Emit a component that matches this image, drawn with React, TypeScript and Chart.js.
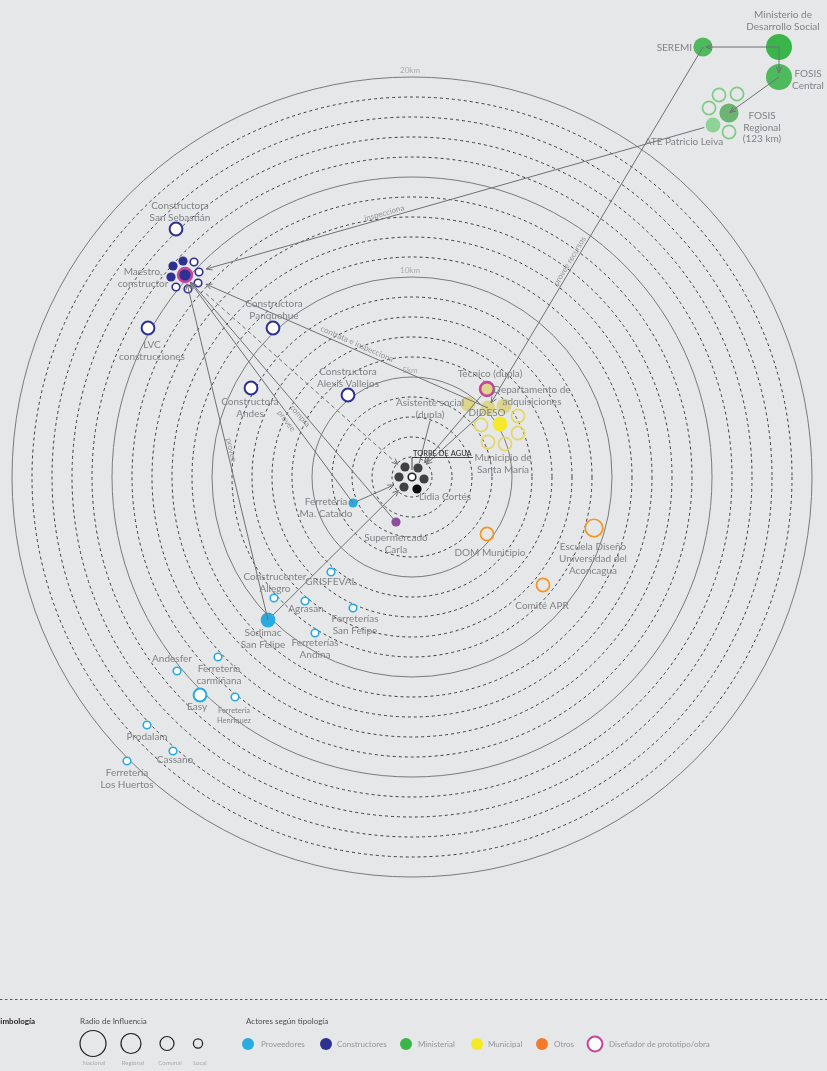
import React, { useEffect, useRef } from "react";
import { Chart, registerables } from "chart.js";

Chart.register(...registerables);

// ---------- canvas / scale (km from Torre de Agua) ----------
const W = 827;
const H = 1071;
const X_MIN = -20.6;
const X_MAX = 20.75;
const Y_MIN = -29.7;
const Y_MAX = 23.85;

// ---------- rings (km) ----------
const SOLID_RINGS_KM = [5, 10, 15, 20];
const DASHED_RINGS_KM = [1, 2, 3, 4, 6, 7, 8, 9, 11, 12, 13, 14, 16, 17, 18, 19];
const RING_LABEL_KM = [5, 10, 20];
const RING_LABELS = ["5km", "10km", "20km"];

// ---------- legend ----------
const INFLUENCE_LEVELS = ["Nacional", "Regional", "Comunal", "Local"];
const ACTOR_TYPES = ["Proveedores", "Constructores", "Ministerial", "Municipal", "Otros", "Diseñador de prototipo/obra"];

type Actor = { id: string; label: string; x: number; y: number; level: string; kind: string };

// ---------- actors (x = km east, y = km north of the Torre de Agua) ----------
const PROVEEDORES: Actor[] = [
  { id: "cataldo", label: "Ferretería\nMa. Cataldo", x: -2.95, y: -1.3, level: "Local", kind: "filled" },
  { id: "sodimac", label: "Sodimac\nSan Felipe", x: -7.2, y: -7.15, level: "Comunal", kind: "filled" },
  { id: "grisfeval", label: "GRISFEVAL", x: -4.05, y: -4.75, level: "Local", kind: "open" },
  { id: "construcenter", label: "Construcenter\nAllegro", x: -6.9, y: -6.05, level: "Local", kind: "open" },
  { id: "agrasan", label: "Agrasan", x: -5.35, y: -6.2, level: "Local", kind: "open" },
  { id: "ferrSF", label: "Ferreterías\nSan Felipe", x: -2.95, y: -6.55, level: "Local", kind: "open" },
  { id: "andina", label: "Ferreterías\nAndina", x: -4.85, y: -7.8, level: "Local", kind: "open" },
  { id: "andesfer", label: "Andesfer", x: -11.75, y: -9.7, level: "Local", kind: "open" },
  { id: "carminana", label: "Ferretería\ncarmiñana", x: -9.7, y: -9.0, level: "Local", kind: "open" },
  { id: "easy", label: "Easy", x: -10.6, y: -10.9, level: "Comunal", kind: "open" },
  { id: "henriquez", label: "Ferretería\nHenriquez", x: -8.85, y: -11.0, level: "Local", kind: "open" },
  { id: "prodalam", label: "Prodalam", x: -13.25, y: -12.4, level: "Local", kind: "open" },
  { id: "cassano", label: "Cassano", x: -11.95, y: -13.7, level: "Local", kind: "open" },
  { id: "huertos", label: "Ferretería\nLos Huertos", x: -14.25, y: -14.2, level: "Local", kind: "open" },
];

const CONSTRUCTORES: Actor[] = [
  { id: "sansebastian", label: "Constructora\nSan Sebastián", x: -11.8, y: 12.4, level: "Comunal", kind: "open" },
  { id: "maestro", label: "Maestro,\nconstructor", x: -11.35, y: 10.1, level: "Comunal", kind: "designer" },
  { id: "m1", label: "", x: -11.95, y: 10.55, level: "Local", kind: "filled" },
  { id: "m2", label: "", x: -11.45, y: 10.8, level: "Local", kind: "filled" },
  { id: "m3", label: "", x: -12.05, y: 10.0, level: "Local", kind: "filled" },
  { id: "m4", label: "", x: -10.9, y: 10.75, level: "Local", kind: "open" },
  { id: "m5", label: "", x: -10.65, y: 10.25, level: "Local", kind: "open" },
  { id: "m6", label: "", x: -10.7, y: 9.7, level: "Local", kind: "open" },
  { id: "m7", label: "", x: -11.2, y: 9.4, level: "Local", kind: "open" },
  { id: "m8", label: "", x: -11.8, y: 9.5, level: "Local", kind: "open" },
  { id: "lvc", label: "LVC\nconstrucciones", x: -13.2, y: 7.45, level: "Comunal", kind: "open" },
  { id: "panquehue", label: "Constructora\nPanquehue", x: -6.95, y: 7.45, level: "Comunal", kind: "open" },
  { id: "andes", label: "Constructora\nAndes", x: -8.05, y: 4.45, level: "Comunal", kind: "open" },
  { id: "vallejos", label: "Constructora\nAlexis Vallejos", x: -3.2, y: 4.1, level: "Comunal", kind: "open" },
];

const MINISTERIAL: Actor[] = [
  { id: "seremi", label: "SEREMI", x: 14.55, y: 21.5, level: "Regional", kind: "filled" },
  { id: "mds", label: "Ministerio de\nDesarrollo Social", x: 18.35, y: 21.5, level: "Nacional", kind: "strong" },
  { id: "fosisC", label: "FOSIS\nCentral", x: 18.35, y: 20.0, level: "Nacional", kind: "filled" },
  { id: "fosisR", label: "FOSIS\nRegional\n(123 km)", x: 15.85, y: 18.2, level: "Regional", kind: "muted" },
  { id: "ate", label: "ATE Patricio Leiva", x: 15.05, y: 17.6, level: "Comunal", kind: "light" },
  { id: "g1", label: "", x: 15.35, y: 19.1, level: "Comunal", kind: "ring" },
  { id: "g2", label: "", x: 16.25, y: 19.15, level: "Comunal", kind: "ring" },
  { id: "g3", label: "", x: 14.85, y: 18.45, level: "Comunal", kind: "ring" },
  { id: "g4", label: "", x: 15.85, y: 17.25, level: "Comunal", kind: "ring" },
];

const MUNICIPAL: Actor[] = [
  { id: "tecnico", label: "Técnico (dupla)", x: 3.75, y: 4.4, level: "Comunal", kind: "designer" },
  { id: "asistente", label: "Asistente social\n(dupla)", x: 2.8, y: 3.65, level: "Comunal", kind: "pale" },
  { id: "dideso", label: "DIDESO", x: 3.8, y: 3.45, level: "Comunal", kind: "pale" },
  { id: "adquisiciones", label: "Departamento de\nadquisiciones", x: 4.6, y: 3.55, level: "Comunal", kind: "pale" },
  { id: "municipio", label: "Municipio de\nSanta María", x: 4.4, y: 2.65, level: "Comunal", kind: "filled" },
  { id: "y1", label: "", x: 5.3, y: 3.05, level: "Comunal", kind: "ring" },
  { id: "y2", label: "", x: 3.45, y: 2.6, level: "Comunal", kind: "ring" },
  { id: "y3", label: "", x: 5.3, y: 2.2, level: "Comunal", kind: "ring" },
  { id: "y4", label: "", x: 3.8, y: 1.75, level: "Comunal", kind: "ring" },
  { id: "y5", label: "", x: 4.65, y: 1.65, level: "Comunal", kind: "ring" },
];

const OTROS: Actor[] = [
  { id: "dom", label: "DOM Municipio", x: 3.75, y: -2.85, level: "Comunal", kind: "ring" },
  { id: "escuela", label: "Escuela Diseño\nUniversidad del\nAconcagua", x: 9.1, y: -2.55, level: "Regional", kind: "ring" },
  { id: "apr", label: "Comité APR", x: 6.55, y: -5.4, level: "Comunal", kind: "ring" },
];

const TORRE: Actor[] = [
  { id: "torre", label: "TORRE DE AGUA", x: 0, y: 0, level: "Local", kind: "open" },
  { id: "c1", label: "", x: -0.35, y: 0.5, level: "Local", kind: "filled" },
  { id: "c2", label: "", x: 0.3, y: 0.45, level: "Local", kind: "filled" },
  { id: "c3", label: "", x: -0.65, y: 0.0, level: "Local", kind: "filled" },
  { id: "c4", label: "", x: 0.6, y: -0.1, level: "Local", kind: "filled" },
  { id: "c5", label: "", x: -0.4, y: -0.5, level: "Local", kind: "filled" },
  { id: "lidia", label: "Lidia Cortés", x: 0.25, y: -0.6, level: "Local", kind: "black" },
];

const COMERCIO: Actor[] = [
  { id: "carla", label: "Supermercado\nCarla", x: -0.8, y: -2.25, level: "Local", kind: "filled" },
];

// ---------- relations: from, to, label ----------
const EDGES: [string, string, string][] = [
  ["mds", "seremi", ""],
  ["mds", "fosisC", ""],
  ["fosisC", "fosisR", ""],
  ["seremi", "dideso", "provee recursos"],
  ["ate", "maestro", "inspecciona"],
  ["dideso", "maestro", "contrata e inspecciona"],
  ["sodimac", "maestro", "provee"],
  ["cataldo", "maestro", "provee"],
  ["carla", "maestro", "compra"],
  ["maestro", "torre", ""],
  ["sodimac", "torre", ""],
  ["cataldo", "torre", ""],
  ["tecnico", "torre", ""],
  ["dideso", "torre", ""],
];

// ---------- styles / layout ----------
const CAT_STYLE: Record<string, Record<string, string>> = {
  Proveedores: { main: "#29abe2" },
  Constructores: { main: "#2e3192", designerFill: "#2e3192" },
  Ministerial: { main: "#4fba5d", strong: "#39b54a", muted: "#6bb473", light: "#8ed295", ring: "#7fcc87" },
  Municipal: { main: "#f4e92a", pale: "#dcd58a", ring: "#e2d767", designerFill: "#dcd58a" },
  Otros: { main: "#f7941d", ring: "#f7941d" },
  Torre: { main: "#414042", black: "#0c0c0c", open: "#231f20" },
  Comercio: { main: "#8c4f9e" },
};
const PINK = "#c4469b";
const LEVEL_R: Record<string, number> = { Nacional: 13, Regional: 9.6, Comunal: 7.4, Local: 4.6 };

const CATEGORIES: { name: string; actors: Actor[] }[] = [
  { name: "Proveedores", actors: PROVEEDORES },
  { name: "Constructores", actors: CONSTRUCTORES },
  { name: "Ministerial", actors: MINISTERIAL },
  { name: "Municipal", actors: MUNICIPAL },
  { name: "Otros", actors: OTROS },
  { name: "Torre", actors: TORRE },
  { name: "Comercio", actors: COMERCIO },
];

// label offsets in px: [dx, dy of first line, align, lineHeight, fontSize]
const LABEL_LAYOUT: Record<string, [number, number, CanvasTextAlign?, number?, number?]> = {
  cataldo: [-27, -1],
  sodimac: [-5, 13, "center", 11.5],
  grisfeval: [0, 10],
  construcenter: [1, -21],
  agrasan: [1, 8],
  ferrSF: [2, 11],
  andina: [0, 10],
  andesfer: [-5, -12],
  carminana: [1, 12],
  easy: [-3, 12],
  henriquez: [-1, 14, "center", 10, 7.5],
  prodalam: [0, 12],
  cassano: [2, 9],
  huertos: [0, 12],
  sansebastian: [4, -23],
  maestro: [-42, -3],
  lvc: [4, 17],
  panquehue: [1, -24],
  andes: [-1, 14],
  vallejos: [0, -23],
  seremi: [-11, 1, "right"],
  mds: [4, -32],
  fosisC: [29, -3],
  fosisR: [33, 3, "center", 11.5],
  ate: [-29, 17],
  tecnico: [3, -15],
  asistente: [-38, -1],
  dideso: [-1, 5],
  adquisiciones: [28, -16],
  municipio: [3, 34],
  lidia: [28, 8],
  carla: [0, 16],
  dom: [3, 19],
  escuela: [-1, 19],
  apr: [-1, 21],
};

// edge layout: start gap, end gap, arrow, dashed, label t, label offset
const EDGE_LAYOUT: Record<string, { s: number; e: number; arrow: boolean; dash?: boolean; t?: number; off?: number }> = {
  "mds>seremi": { s: 0, e: 3, arrow: true },
  "mds>fosisC": { s: 0, e: 4, arrow: true },
  "fosisC>fosisR": { s: 0, e: 1, arrow: true },
  "seremi>dideso": { s: 0, e: 6, arrow: true, t: 0.6, off: 5 },
  "ate>maestro": { s: 9, e: 22, arrow: true, t: 0.62, off: 5 },
  "dideso>maestro": { s: 0, e: 23, arrow: true, t: 0.44, off: 6 },
  "sodimac>maestro": { s: 0, e: 9, arrow: true, t: 0.49, off: 4 },
  "cataldo>maestro": { s: 0, e: 9, arrow: true, t: 0.373, off: -5 },
  "carla>maestro": { s: 3, e: 10, arrow: true, t: 0.44, off: -4 },
  "maestro>torre": { s: 28, e: 19, arrow: true, dash: true },
  "sodimac>torre": { s: 7, e: 19, arrow: true },
  "cataldo>torre": { s: 5, e: 20, arrow: true },
  "tecnico>torre": { s: 9, e: 19, arrow: true },
  "dideso>torre": { s: 7, e: 19, arrow: true },
};

const FONT = "Lato, 'Open Sans', sans-serif";
const TEXT_GRAY = "#808285";
const LINE_GRAY = "#707174";

const ALL_ACTORS: Record<string, Actor> = {};
CATEGORIES.forEach((c) => c.actors.forEach((a) => (ALL_ACTORS[a.id] = a)));

function borderWidthOf(a: Actor): number {
  if (a.kind === "designer") return 2.6;
  if (a.kind === "open") return a.level === "Local" ? 1.6 : 2;
  if (a.kind === "ring") return 1.7;
  return 0;
}
function radiusOf(a: Actor): number {
  const base = a.kind === "designer" ? 8.2 : LEVEL_R[a.level];
  return base - borderWidthOf(a) / 2;
}
function fillOf(cat: string, a: Actor): string {
  const s = CAT_STYLE[cat];
  switch (a.kind) {
    case "open":
      return "#ffffff";
    case "ring":
      return "rgba(0,0,0,0)";
    case "designer":
      return s.designerFill || s.main;
    default:
      return s[a.kind] || s.main;
  }
}
function borderOf(cat: string, a: Actor): string {
  const s = CAT_STYLE[cat];
  if (a.kind === "designer") return PINK;
  if (a.kind === "ring") return s.ring || s.main;
  if (a.kind === "open") return s.open || s.main;
  return fillOf(cat, a);
}

function drawArrow(ctx: CanvasRenderingContext2D, x1: number, y1: number, x2: number, y2: number) {
  const a = Math.atan2(y2 - y1, x2 - x1);
  const L = 6.5;
  const sp = 0.42;
  ctx.beginPath();
  ctx.moveTo(x2 - L * Math.cos(a - sp), y2 - L * Math.sin(a - sp));
  ctx.lineTo(x2, y2);
  ctx.lineTo(x2 - L * Math.cos(a + sp), y2 - L * Math.sin(a + sp));
  ctx.stroke();
}

const bgPlugin = {
  id: "bg",
  beforeDraw(chart: any) {
    const ctx = chart.ctx;
    ctx.save();
    ctx.fillStyle = "#e6e7e8";
    ctx.fillRect(0, 0, chart.width, chart.height);
    ctx.restore();
  },
};

const ringsPlugin = {
  id: "rings",
  beforeDatasetsDraw(chart: any) {
    const { ctx } = chart;
    const xs = chart.scales.x;
    const ys = chart.scales.y;
    const cx = xs.getPixelForValue(0);
    const cy = ys.getPixelForValue(0);
    ctx.save();
    ctx.lineWidth = 1;
    ctx.strokeStyle = "#3d3d3f";
    ctx.setLineDash([3, 3]);
    DASHED_RINGS_KM.forEach((km) => {
      const rx = xs.getPixelForValue(km) - cx;
      const ry = cy - ys.getPixelForValue(km);
      ctx.beginPath();
      ctx.ellipse(cx, cy, rx, ry, 0, 0, Math.PI * 2);
      ctx.stroke();
    });
    ctx.setLineDash([]);
    ctx.strokeStyle = "#7a7b7e";
    SOLID_RINGS_KM.forEach((km) => {
      const rx = xs.getPixelForValue(km) - cx;
      const ry = cy - ys.getPixelForValue(km);
      ctx.beginPath();
      ctx.ellipse(cx, cy, rx, ry, 0, 0, Math.PI * 2);
      ctx.stroke();
    });
    ctx.fillStyle = "#a9abae";
    ctx.font = `8px ${FONT}`;
    ctx.textAlign = "center";
    ctx.textBaseline = "middle";
    RING_LABEL_KM.forEach((km, i) => {
      const y = ys.getPixelForValue(km);
      ctx.fillText(RING_LABELS[i], cx - 2, y - 7);
    });
    ctx.restore();
  },
};

const overlayPlugin = {
  id: "overlay",
  afterDatasetsDraw(chart: any) {
    const { ctx } = chart;
    const xs = chart.scales.x;
    const ys = chart.scales.y;
    const P = (id: string) => {
      const a = ALL_ACTORS[id];
      return [xs.getPixelForValue(a.x), ys.getPixelForValue(a.y)];
    };
    ctx.save();
    // edges
    ctx.strokeStyle = LINE_GRAY;
    ctx.lineWidth = 1;
    EDGES.forEach(([f, t, label]) => {
      const L = EDGE_LAYOUT[`${f}>${t}`];
      const [x1, y1] = P(f);
      const [x2, y2] = P(t);
      const d = Math.hypot(x2 - x1, y2 - y1);
      const ux = (x2 - x1) / d;
      const uy = (y2 - y1) / d;
      const sx = x1 + ux * L.s;
      const sy = y1 + uy * L.s;
      const ex = x2 - ux * L.e;
      const ey = y2 - uy * L.e;
      ctx.setLineDash(L.dash ? [4, 3] : []);
      ctx.beginPath();
      ctx.moveTo(sx, sy);
      ctx.lineTo(ex, ey);
      ctx.stroke();
      ctx.setLineDash([]);
      if (L.arrow) drawArrow(ctx, sx, sy, ex, ey);
      if (label) {
        const tt = L.t ?? 0.5;
        const lx = x1 + (x2 - x1) * tt;
        const ly = y1 + (y2 - y1) * tt;
        let ang = Math.atan2(y2 - y1, x2 - x1);
        if (ang > Math.PI / 2) ang -= Math.PI;
        if (ang <= -Math.PI / 2) ang += Math.PI;
        ctx.save();
        ctx.translate(lx, ly);
        ctx.rotate(ang);
        ctx.fillStyle = "#939598";
        ctx.font = `8px ${FONT}`;
        ctx.textAlign = "center";
        ctx.textBaseline = "middle";
        ctx.fillText(label, 0, -(L.off ?? 4));
        ctx.restore();
      }
    });

    // node labels
    ctx.fillStyle = TEXT_GRAY;
    Object.keys(LABEL_LAYOUT).forEach((id) => {
      const a = ALL_ACTORS[id];
      if (!a || !a.label) return;
      const [dx, dy, align, lh, fs] = LABEL_LAYOUT[id];
      const [x, y] = P(id);
      ctx.font = `${fs ?? 10}px ${FONT}`;
      ctx.textAlign = align ?? "center";
      ctx.textBaseline = "middle";
      a.label.split("\n").forEach((line, i) => {
        ctx.fillText(line, x + dx, y + dy + i * (lh ?? 12));
      });
    });

    // leader from "Asistente social (dupla)" label to the household
    {
      const [ax, ay] = P("asistente");
      const [lx0, ly0] = [ax + LABEL_LAYOUT.asistente[0], ay + LABEL_LAYOUT.asistente[1] + 12 + 6];
      const [tx, ty] = P("c2");
      const d = Math.hypot(tx - lx0, ty - ly0);
      ctx.strokeStyle = LINE_GRAY;
      ctx.beginPath();
      ctx.moveTo(lx0, ly0);
      ctx.lineTo(tx - ((tx - lx0) / d) * 5, ty - ((ty - ly0) / d) * 5);
      ctx.stroke();
    }

    // Torre de agua annotation
    {
      const [tx, ty] = P("torre");
      ctx.strokeStyle = "#231f20";
      ctx.lineWidth = 0.8;
      ctx.beginPath();
      ctx.moveTo(tx, ty - 7);
      ctx.lineTo(tx, ty - 19.5);
      ctx.lineTo(tx + 61, ty - 19.5);
      ctx.stroke();
      ctx.fillStyle = "#231f20";
      ctx.font = `7.5px ${FONT}`;
      ctx.textAlign = "left";
      ctx.textBaseline = "alphabetic";
      ctx.fillText(ALL_ACTORS.torre.label, tx + 1, ty - 21);
    }
    ctx.restore();
  },
};

const LEGEND_TYPE_COLORS = ["#29abe2", "#2e3192", "#39b54a", "#f4ea24", "#f47b2a", "#ffffff"];

const legendPlugin = {
  id: "symbology",
  afterDraw(chart: any) {
    const { ctx } = chart;
    ctx.save();
    ctx.strokeStyle = "#58595b";
    ctx.lineWidth = 1;
    ctx.setLineDash([2.5, 2.5]);
    ctx.beginPath();
    ctx.moveTo(0, 999.5);
    ctx.lineTo(W, 999.5);
    ctx.stroke();
    ctx.setLineDash([]);

    ctx.textBaseline = "middle";
    ctx.textAlign = "left";
    ctx.fillStyle = "#231f20";
    ctx.font = `bold 8px ${FONT}`;
    ctx.fillText("Simbología", -4, 1021);
    ctx.fillStyle = "#4d4d4f";
    ctx.font = `8px ${FONT}`;
    ctx.fillText("Radio de Influencia", 80, 1021);
    ctx.fillText("Actores según tipología", 246, 1021);

    const infX = [93, 131, 167, 198];
    const infLabX = [94, 133, 170, 200];
    const infR = [13, 10, 7, 4.6];
    ctx.strokeStyle = "#231f20";
    ctx.lineWidth = 1.2;
    INFLUENCE_LEVELS.forEach((lvl, i) => {
      ctx.beginPath();
      ctx.arc(infX[i], 1043.5, infR[i], 0, Math.PI * 2);
      ctx.stroke();
      ctx.fillStyle = "#a7a9ac";
      ctx.font = `6px ${FONT}`;
      ctx.textAlign = "center";
      ctx.fillText(lvl, infLabX[i], 1063);
    });

    const typeX = [248, 326, 406, 477, 542, 595];
    const typeLabX = [261, 337, 418, 488, 554, 609];
    ACTOR_TYPES.forEach((t, i) => {
      ctx.beginPath();
      if (i === ACTOR_TYPES.length - 1) {
        ctx.arc(typeX[i], 1044, 7.4, 0, Math.PI * 2);
        ctx.fillStyle = LEGEND_TYPE_COLORS[i];
        ctx.fill();
        ctx.strokeStyle = PINK;
        ctx.lineWidth = 2;
        ctx.stroke();
      } else {
        ctx.arc(typeX[i], 1044, 6, 0, Math.PI * 2);
        ctx.fillStyle = LEGEND_TYPE_COLORS[i];
        ctx.fill();
      }
      ctx.fillStyle = "#939598";
      ctx.font = `8px ${FONT}`;
      ctx.textAlign = "left";
      ctx.fillText(t, typeLabX[i], 1044);
    });
    ctx.restore();
  },
};

export default function App() {
  const ref = useRef<HTMLCanvasElement>(null);
  useEffect(() => {
    const canvas = ref.current;
    if (!canvas) return;
    const chart = new Chart(canvas, {
      type: "scatter",
      data: {
        datasets: CATEGORIES.map((c) => ({
          label: c.name,
          data: c.actors.map((a) => ({ ...a })) as any,
          clip: false as any,
          pointRadius: (ctx: any) => (ctx.raw ? radiusOf(ctx.raw) : 4),
          pointHoverRadius: (ctx: any) => (ctx.raw ? radiusOf(ctx.raw) : 4),
          pointBackgroundColor: (ctx: any) => (ctx.raw ? fillOf(c.name, ctx.raw) : "#000"),
          pointBorderColor: (ctx: any) => (ctx.raw ? borderOf(c.name, ctx.raw) : "#000"),
          pointBorderWidth: (ctx: any) => (ctx.raw ? borderWidthOf(ctx.raw) : 0),
        })),
      },
      options: {
        responsive: false,
        maintainAspectRatio: false,
        animation: false,
        events: [],
        layout: { padding: 0, autoPadding: false } as any,
        plugins: { legend: { display: false }, tooltip: { enabled: false } },
        scales: {
          x: { type: "linear", min: X_MIN, max: X_MAX, display: false },
          y: { type: "linear", min: Y_MIN, max: Y_MAX, display: false },
        },
      },
      plugins: [bgPlugin, ringsPlugin, overlayPlugin, legendPlugin],
    });
    return () => chart.destroy();
  }, []);
  return (
    <div style={{ position: "absolute", left: 0, top: 0, width: W, height: H, background: "#e6e7e8", overflow: "hidden" }}>
      <canvas ref={ref} width={W} height={H} style={{ display: "block", width: W, height: H }} />
    </div>
  );
}
